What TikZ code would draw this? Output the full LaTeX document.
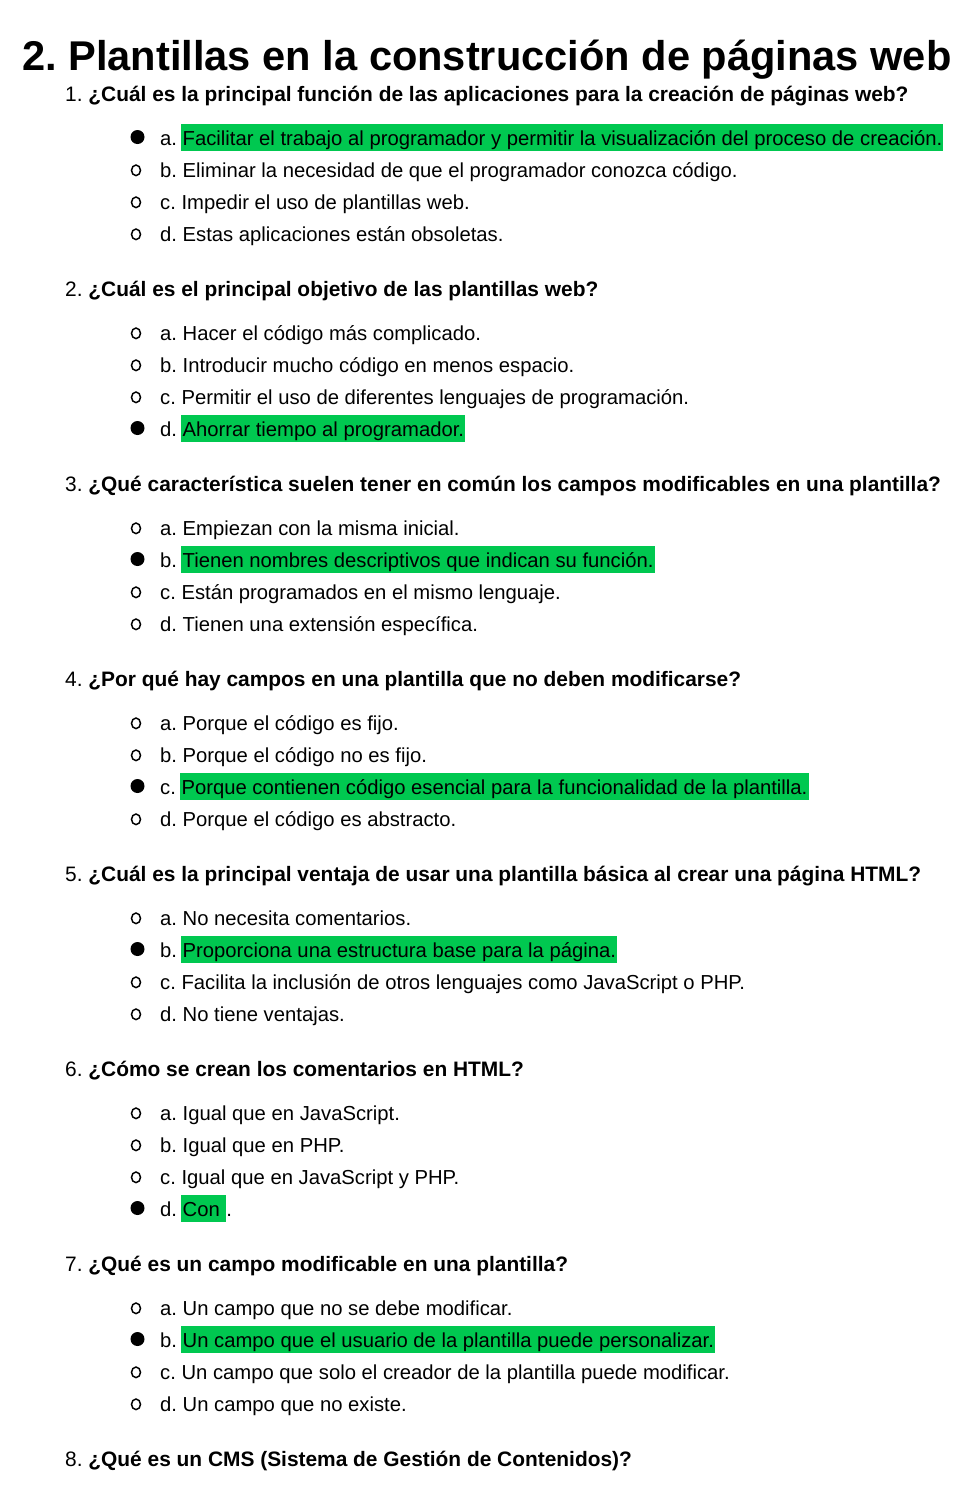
\documentclass[tikz,border=0pt]{standalone}
\usepackage{fontspec}
\setmainfont{Liberation Sans}
\usetikzlibrary{shapes.geometric}
\definecolor{hlgreen}{RGB}{0,200,80}
\frenchspacing
\newcommand\hlt[1]{{\setlength\fboxsep{0pt}\kern-1.5pt\colorbox{hlgreen}{\kern1.5pt\rule[-5.7pt]{0pt}{26.7pt}#1\kern1pt}}}
\newcommand\optline[5]{%
  \node[opt] (#1) at (160,#2) {#3. #4};
  \ifnum#5=1\relax
    \node[fullbullet] (#1b) at (137.5,#2-8) {};
  \else
    \node[openbullet] (#1b) at (136,#2-6.7) {};
  \fi}
\begin{document}
\begin{tikzpicture}[x=1pt,y=-1pt,
  title/.style={anchor=base west,inner sep=0pt,font=\fontsize{41.6}{48}\selectfont\bfseries\frenchspacing},
  quest/.style={anchor=base west,inner sep=0pt,font=\fontsize{20.9}{24}\selectfont\frenchspacing},
  opt/.style={anchor=base west,inner sep=0pt,font=\fontsize{20.25}{24}\selectfont\frenchspacing},
  fullbullet/.style={circle,fill=black,minimum size=14pt,inner sep=0pt},
  openbullet/.style={ellipse,draw=black,line width=1.5pt,minimum width=9pt,minimum height=10.6pt,inner sep=0pt}]
\useasboundingbox[fill=white] (0,0) rectangle (972,1500);
\node[title] (title) at (22,70) {2. Plantillas en la construcción de páginas web};
% Q1
\node[quest] (q1) at (65,101) {1. \textbf{¿Cuál es la principal función de las aplicaciones para la creación de páginas web?}};
\optline{q1a}{145}{a}{\hlt{Facilitar el trabajo al programador y permitir la visualización del proceso de creación.}}{1}
\optline{q1b}{177}{b}{Eliminar la necesidad de que el programador conozca código.}{0}
\optline{q1c}{209}{c}{Impedir el uso de plantillas web.}{0}
\optline{q1d}{241}{d}{Estas aplicaciones están obsoletas.}{0}
% Q2
\node[quest] (q2) at (65,296) {2. \textbf{¿Cuál es el principal objetivo de las plantillas web?}};
\optline{q2a}{340}{a}{Hacer el código más complicado.}{0}
\optline{q2b}{372}{b}{Introducir mucho código en menos espacio.}{0}
\optline{q2c}{404}{c}{Permitir el uso de diferentes lenguajes de programación.}{0}
\optline{q2d}{436}{d}{\hlt{Ahorrar tiempo al programador.}}{1}
% Q3
\node[quest] (q3) at (65,491) {3. \textbf{¿Qué característica suelen tener en común los campos modificables en una plantilla?}};
\optline{q3a}{535}{a}{Empiezan con la misma inicial.}{0}
\optline{q3b}{567}{b}{\hlt{Tienen nombres descriptivos que indican su función.}}{1}
\optline{q3c}{599}{c}{Están programados en el mismo lenguaje.}{0}
\optline{q3d}{631}{d}{Tienen una extensión específica.}{0}
% Q4
\node[quest] (q4) at (65,686) {4. \textbf{¿Por qué hay campos en una plantilla que no deben modificarse?}};
\optline{q4a}{730}{a}{Porque el código es fijo.}{0}
\optline{q4b}{762}{b}{Porque el código no es fijo.}{0}
\optline{q4c}{794}{c}{\hlt{Porque contienen código esencial para la funcionalidad de la plantilla.}}{1}
\optline{q4d}{826}{d}{Porque el código es abstracto.}{0}
% Q5
\node[quest] (q5) at (65,881) {5. \textbf{¿Cuál es la principal ventaja de usar una plantilla básica al crear una página HTML?}};
\optline{q5a}{925}{a}{No necesita comentarios.}{0}
\optline{q5b}{957}{b}{\hlt{Proporciona una estructura base para la página.}}{1}
\optline{q5c}{989}{c}{Facilita la inclusión de otros lenguajes como JavaScript o PHP.}{0}
\optline{q5d}{1021}{d}{No tiene ventajas.}{0}
% Q6
\node[quest] (q6) at (65,1076) {6. \textbf{¿Cómo se crean los comentarios en HTML?}};
\optline{q6a}{1120}{a}{Igual que en JavaScript.}{0}
\optline{q6b}{1152}{b}{Igual que en PHP.}{0}
\optline{q6c}{1184}{c}{Igual que en JavaScript y PHP.}{0}
\optline{q6d}{1216}{d}{\hlt{Con\ }.}{1}
% Q7
\node[quest] (q7) at (65,1271) {7. \textbf{¿Qué es un campo modificable en una plantilla?}};
\optline{q7a}{1315}{a}{Un campo que no se debe modificar.}{0}
\optline{q7b}{1347}{b}{\hlt{Un campo que el usuario de la plantilla puede personalizar.}}{1}
\optline{q7c}{1379}{c}{Un campo que solo el creador de la plantilla puede modificar.}{0}
\optline{q7d}{1411}{d}{Un campo que no existe.}{0}
% Q8
\node[quest] (q8) at (65,1466) {8. \textbf{¿Qué es un CMS (Sistema de Gestión de Contenidos)?}};
\end{tikzpicture}
\end{document}
